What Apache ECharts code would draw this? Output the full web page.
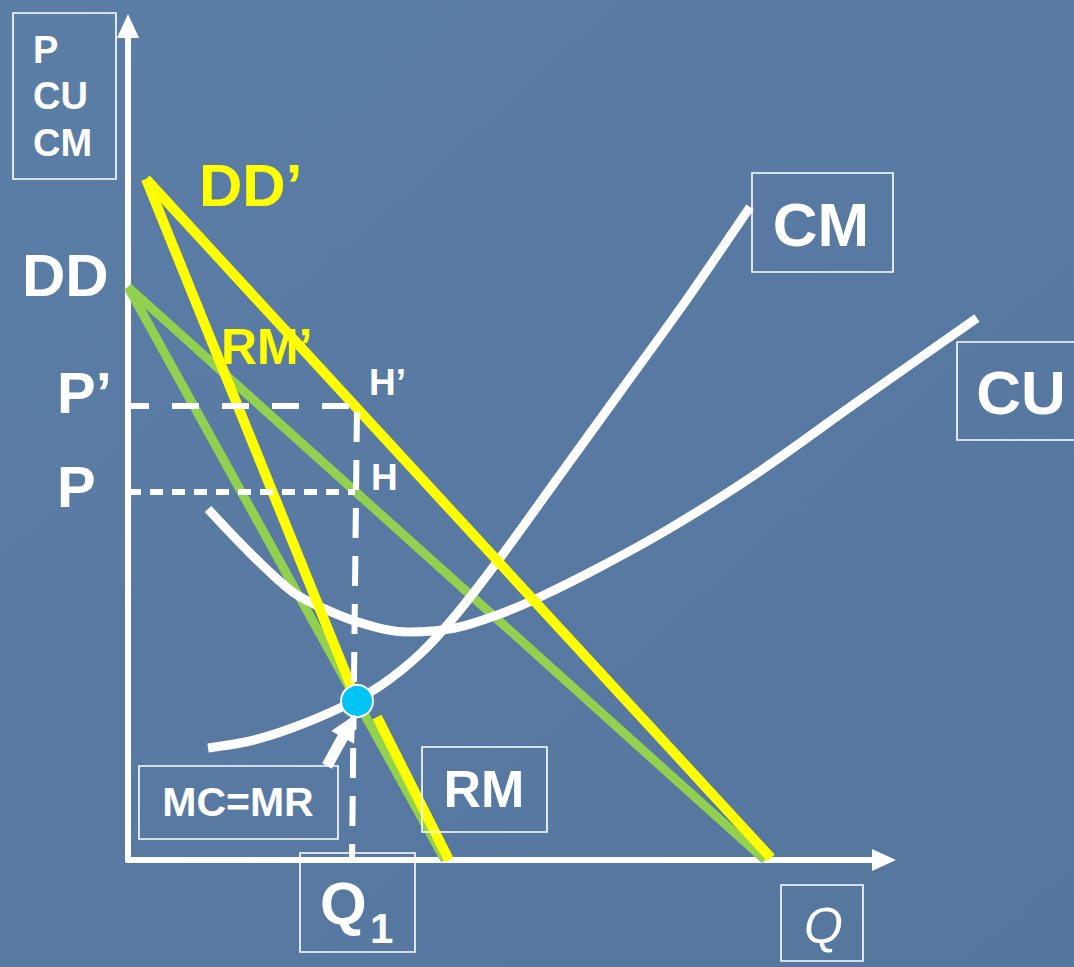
<!DOCTYPE html>
<html>
<head>
<meta charset="utf-8">
<script src="https://cdn.jsdelivr.net/npm/echarts@6/dist/echarts.min.js"></script>
<style>
html,body{margin:0;padding:0;background:#5a7ca4;}
#c{width:1074px;height:967px;}
</style>
</head>
<body>
<div id="c"></div>
<script>
// ---- data (chart units: Q on x, price/cost on y) ----
const ddLine       = [[0, 573], [637, 0]];          // DD  (green demand)
const rmLine       = [[0, 573], [317, 0]];          // RM  (green marginal revenue)
const ddPrimeLine  = [[18, 681], [643, 2]];         // DD' (yellow demand)
const rmPrimeUpper = [[18, 681], [229, 159]];       // RM' (yellow, above MC=MR)
const rmPrimeLower = [[249, 143], [321, 0]];        // RM' (yellow, below MC=MR)
const cuCurve = [[80,351],[122,307],[162,270],[184,257],[230,238],[280,228],[327,232],
                 [372,246],[412,263],[472,293],[539,330],[622,382],[732,460],[849,542]];
const cmCurve = [[80,112],[122,119],[164,132],[214,153],[252,174],[292,206],[327,244],
                 [372,302],[432,385],[492,468],[557,558],[622,653]];
const priceP      = 368;   // P
const pricePPrime = 454;   // P'
const q1          = 229;   // Q1 (top of dashed line)
const q1Bottom    = 224;   // Q1 (at axis)
const equilibrium = [229, 159];     // MC = MR
const arrowTail   = [199, 94];
const arrowHead   = [221, 134];

const WHITE = '#ffffff', GREEN = '#92d050', YELLOW = '#ffff00';
const chart = echarts.init(document.getElementById('c'), null, {renderer: 'svg'});

function seg(data, color, width, extra) {
  return Object.assign({
    type: 'line', data: data, symbol: 'none', showSymbol: false, silent: true,
    clip: false, animation: false,
    lineStyle: {color: color, width: width, cap: 'butt'}
  }, extra || {});
}

const font = 'Liberation Sans, Arial, Helvetica, sans-serif';
function txt(s, x, y, size, color, opts) {
  opts = opts || {};
  return {type: 'text', x: x, y: y, z: 100, silent: true, style: {
    text: s, fill: color || WHITE, font: (opts.style || 'normal') + ' ' + (opts.weight || 'bold') + ' ' + size + 'px ' + font,
    align: opts.align || 'left', verticalAlign: 'middle'}};
}
function box(x, y, w, h) {
  return {type: 'rect', z: 99, silent: true, shape: {x: x, y: y, width: w, height: h},
    style: {fill: 'none', stroke: WHITE, lineWidth: 1.6}};
}
const hiddenAxis = {show: false, axisLine: {show: false}, axisTick: {show: false}, axisLabel: {show: false}, splitLine: {show: false}};

chart.setOption({
  backgroundColor: {type: 'linear', x: 0, y: 0, x2: 1, y2: 1,
    colorStops: [{offset: 0, color: '#5b7ea6'}, {offset: 0.5, color: '#587aa2'}, {offset: 1, color: '#55779e'}]},
  animation: false,
  grid: [
    {left: 128, right: 190, top: 26, bottom: 107},
    {left: 128, right: 0, top: 26, bottom: 107}
  ],
  xAxis: [
    {type: 'value', min: 0, max: 756, gridIndex: 0,
      axisLine: {show: true, onZero: false, symbol: ['none', 'triangle'], symbolSize: [22, 24],
        lineStyle: {color: WHITE, width: 6}},
      axisTick: {show: false}, axisLabel: {show: false}, splitLine: {show: false}},
    Object.assign({type: 'value', min: 0, max: 946, gridIndex: 1}, hiddenAxis)
  ],
  yAxis: [
    {type: 'value', min: 0, max: 834, gridIndex: 0,
      axisLine: {show: true, onZero: false, symbol: ['none', 'triangle'], symbolSize: [22, 24],
        lineStyle: {color: WHITE, width: 6}},
      axisTick: {show: false}, axisLabel: {show: false}, splitLine: {show: false}},
    Object.assign({type: 'value', min: 0, max: 834, gridIndex: 1}, hiddenAxis)
  ],
  series: [
    seg(ddLine, GREEN, 9),
    seg(rmLine, GREEN, 9),
    seg(cuCurve, WHITE, 9, {smooth: 0.35, xAxisIndex: 1, yAxisIndex: 1}),
    seg(cmCurve, WHITE, 9, {smooth: 0.3}),
    seg(ddPrimeLine, YELLOW, 10),
    seg(rmPrimeUpper, YELLOW, 10),
    seg(rmPrimeLower, YELLOW, 10),
    seg([[0, pricePPrime], [q1, pricePPrime]], WHITE, 6, {lineStyle: {color: WHITE, width: 6, type: [27, 23], dashOffset: 6}}),
    seg([[0, priceP], [q1 - 2, priceP]], WHITE, 6, {lineStyle: {color: WHITE, width: 6, type: [13, 9], dashOffset: 0}}),
    seg([[q1, pricePPrime], [q1Bottom, 0]], WHITE, 6, {lineStyle: {color: WHITE, width: 6, type: [30, 18], dashOffset: -6}}),
    {type: 'scatter', data: [equilibrium], symbol: 'circle', symbolSize: 32, silent: true, z: 5,
      itemStyle: {color: '#00c4f4', borderColor: WHITE, borderWidth: 2, opacity: 1}},
    {type: 'lines', coordinateSystem: 'cartesian2d', silent: true, z: 6,
      symbol: ['none', 'triangle'], symbolSize: 26,
      lineStyle: {color: WHITE, width: 11, opacity: 1, curveness: 0},
      data: [{coords: [arrowTail, arrowHead]}]}
  ],
  graphic: [
    box(13, 13, 103, 166),
    txt('P', 33, 50, 38), txt('CU', 33, 96, 38), txt('CM', 33, 143, 38),
    txt('DD', 22, 275, 60),
    txt('DD\u2019', 199, 185, 60, YELLOW),
    txt('RM\u2019', 221, 347, 50, YELLOW),
    txt('H\u2019', 369, 382, 37),
    txt('H', 371, 477, 37),
    txt('P\u2019', 57, 392, 58),
    txt('P', 57, 486, 58),
    box(752, 173, 141, 99), txt('CM', 821, 224, 62, WHITE, {align: 'center'}),
    box(957, 342, 125, 98), txt('CU', 1021, 392, 62, WHITE, {align: 'center'}),
    box(139, 766, 199, 73), txt('MC=MR', 238, 802, 41, WHITE, {align: 'center'}),
    box(422, 747, 125, 85), txt('RM', 484, 789, 52, WHITE, {align: 'center'}),
    box(300, 853, 115, 99), txt('Q', 320, 903, 60), txt('1', 370, 928, 42),
    box(781, 885, 82, 76), txt('Q', 804, 926, 50, WHITE, {style: 'italic', weight: 'normal'})
  ]
});
</script>
</body>
</html>
